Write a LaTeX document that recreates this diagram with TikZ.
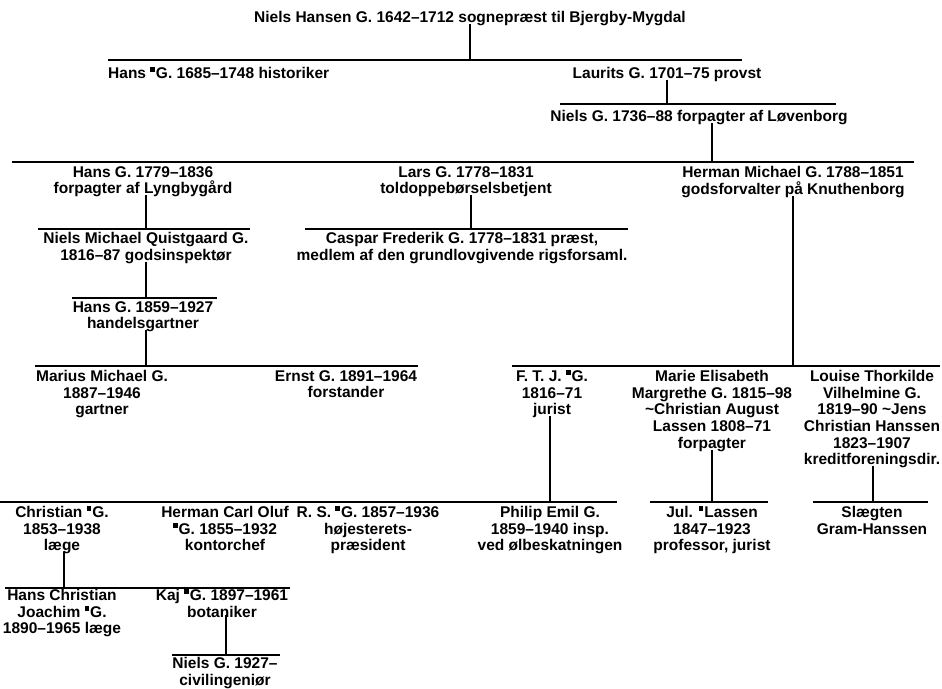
\documentclass[tikz,border=0pt]{standalone}
\usepackage{fontspec}
\setmainfont{Liberation Sans}
\newcommand{\sq}{\raisebox{0.42em}{\rule{0.3em}{0.3em}}\kern0.06em}
\tikzset{
  person/.style={align=center, inner sep=0pt, anchor=north, font=\bfseries\fontsize{15.5}{16.7}\selectfont},
  bar/.style={line width=1.25pt, line cap=butt},
}
\begin{document}
\begin{tikzpicture}[x=1pt,y=-1pt]
\fill[white] (0,0) rectangle (942,688);
\useasboundingbox (0,0) rectangle (942,688);
% nodes
\node[person] (t) at (470,11) {Niels Hansen G. 1642–1712 sognepræst til Bjergby-Mygdal};
\node[person, anchor=north west] (hans1) at (108,67) {Hans \sq G. 1685–1748 historiker};
\node[person] (laur) at (667,67) {Laurits G. 1701–75 provst};
\node[person] (niels2) at (699,110) {Niels G. 1736–88 forpagter af Løvenborg};
\node[person] (hans3) at (143,166) {Hans G. 1779–1836\\forpagter af Lyngbygård};
\node[person] (lars) at (466,166) {Lars G. 1778–1831\\toldoppebørselsbetjent};
\node[person] (herman) at (793,166) {Herman Michael G. 1788–1851\\godsforvalter på Knuthenborg};
\node[person] (nmq) at (146,232) {Niels Michael Quistgaard G.\\1816–87 godsinspektør};
\node[person] (caspar) at (462,232) {Caspar Frederik G. 1778–1831 præst,\\medlem af den grundlovgivende rigsforsaml.};
\node[person] (hans4) at (143,301) {Hans G. 1859–1927\\handelsgartner};
\node[person] (marius) at (102,370) {Marius Michael G.\\1887–1946\\gartner};
\node[person] (ernst) at (346,370) {Ernst G. 1891–1964\\forstander};
\node[person] (ftj) at (552,370) {F. T. J. \sq G.\\1816–71\\jurist};
\node[person] (marie) at (712,370) {Marie Elisabeth\\Margrethe G. 1815–98\\\textasciitilde Christian August\\Lassen 1808–71\\forpagter};
\node[person] (louise) at (872,370) {Louise Thorkilde\\Vilhelmine G.\\1819–90 \textasciitilde Jens\\Christian Hanssen\\1823–1907\\kreditforeningsdir.};
\node[person] (christian) at (62,506) {Christian \sq G.\\1853–1938\\læge};
\node[person] (hco) at (225,506) {Herman Carl Oluf\\\sq G. 1855–1932\\kontorchef};
\node[person] (rs) at (368,506) {R. S. \sq G. 1857–1936\\højesterets-\\præsident};
\node[person] (philip) at (550,506) {Philip Emil G.\\1859–1940 insp.\\ved ølbeskatningen};
\node[person] (jul) at (712,506) {Jul. \sq Lassen\\1847–1923\\professor, jurist};
\node[person] (slaegt) at (872,506) {Slægten\\Gram-Hanssen};
\node[person] (hcj) at (62,589) {Hans Christian\\Joachim \sq G.\\1890–1965 læge};
\node[person] (kaj) at (222,589) {Kaj \sq G. 1897–1961\\botaniker};
\node[person] (niels5) at (225,657) {Niels G. 1927–\\civilingeniør};
% bars
\coordinate (b0l) at (108,60);  \coordinate (b0r) at (742,60);
\coordinate (b1l) at (560,104); \coordinate (b1r) at (836,104);
\coordinate (b2l) at (12,162);  \coordinate (b2r) at (914,162);
\coordinate (b3l) at (38,229);  \coordinate (b3r) at (250,229);
\coordinate (b3bl) at (305,229); \coordinate (b3br) at (628,229);
\coordinate (b4l) at (72,298);  \coordinate (b4r) at (217,298);
\coordinate (b5l) at (35,366);  \coordinate (b5r) at (418,366);
\coordinate (b5bl) at (512,366); \coordinate (b5br) at (940,366);
\coordinate (b6l) at (0,502);   \coordinate (b6r) at (617,502);
\coordinate (b6bl) at (650,502); \coordinate (b6br) at (768,502);
\coordinate (b6cl) at (813,502); \coordinate (b6cr) at (928,502);
\coordinate (b7l) at (5,588);   \coordinate (b7r) at (290,588);
\coordinate (b8l) at (172,655); \coordinate (b8r) at (280,655);
\foreach \a/\b in {b0l/b0r,b1l/b1r,b2l/b2r,b3l/b3r,b3bl/b3br,b4l/b4r,b5l/b5r,b5bl/b5br,b6l/b6r,b6bl/b6br,b6cl/b6cr,b7l/b7r,b8l/b8r}
  \draw[bar] (\a) -- (\b);
% verticals
\foreach \n/\dx/\bb in {t/0/b0l, laur/0/b1l, niels2/13/b2l, hans3/3/b3l, lars/5/b3bl, herman/0/b5bl, nmq/0/b4l, hans4/3/b5l, ftj/-2/b6l, marie/0/b6bl, louise/1/b6cl, christian/2/b7l, kaj/4/b8l}{
  \path ([xshift=\dx pt, yshift=2pt]\n.south) coordinate (v-\n);
  \draw[bar] (v-\n) -- (v-\n |- \bb);
}
\end{tikzpicture}
\end{document}
